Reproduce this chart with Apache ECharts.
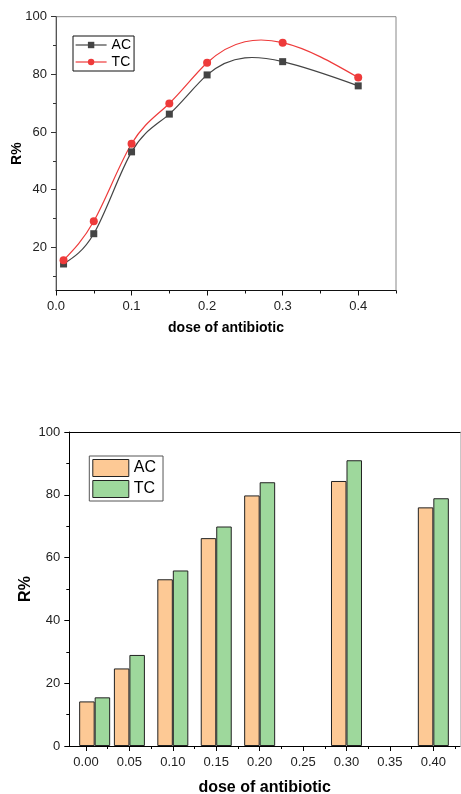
<!DOCTYPE html>
<html><head><meta charset="utf-8">
<script src="https://cdn.jsdelivr.net/npm/echarts@6/dist/echarts.min.js"></script>
<style>html,body{margin:0;padding:0;background:#fff}#c{width:461px;height:794px}</style>
</head><body><div id="c"></div>
<script>
const doses = [0.01, 0.05, 0.10, 0.15, 0.20, 0.30, 0.40];
const acValues = [14.2, 24.7, 53.1, 66.2, 79.8, 84.4, 76.0];
const tcValues = [15.5, 29.0, 55.9, 69.9, 84.0, 91.0, 78.9];
const seriesNames = ['AC', 'TC'];
const lineXMajor = [0, 0.1, 0.2, 0.3, 0.4];
const lineXMinor = [0.05, 0.15, 0.25, 0.35, 0.45];
const lineYMajor = [20, 40, 60, 80, 100];
const lineYMinor = [10, 30, 50, 70, 90];
const barXMajor = [0, 0.05, 0.10, 0.15, 0.20, 0.25, 0.30, 0.35, 0.40];
const barXMinor = [0.025, 0.075, 0.125, 0.175, 0.225, 0.275, 0.325, 0.375, 0.425];
const xTitle = 'dose of antibiotic';
const yTitle = 'R%';

const FONT = "'Liberation Sans', Arial, sans-serif";
const AC_LINE = '#444444', TC_LINE = '#EE3A3A';
const AC_BAR = '#FDC995', TC_BAR = '#9ED89C';
const pairs = vals => doses.map((d, i) => [d, vals[i]]);

// Natural cubic spline slopes (Origin-style "spline" connection), from the data only
function splineSlopes(xs, ys) {
  const n = xs.length, h = [], M = new Array(n).fill(0);
  for (let i = 0; i < n - 1; i++) h.push(xs[i + 1] - xs[i]);
  const a = [], b = [], c = [], r = [];
  for (let i = 1; i < n - 1; i++) {
    a.push(h[i - 1]); b.push(2 * (h[i - 1] + h[i])); c.push(h[i]);
    r.push(6 * ((ys[i + 1] - ys[i]) / h[i] - (ys[i] - ys[i - 1]) / h[i - 1]));
  }
  const m = r.length;
  for (let i = 1; i < m; i++) {
    const w = a[i] / b[i - 1];
    b[i] -= w * c[i - 1]; r[i] -= w * r[i - 1];
  }
  const sol = new Array(m);
  for (let i = m - 1; i >= 0; i--) sol[i] = (r[i] - (i < m - 1 ? c[i] * sol[i + 1] : 0)) / b[i];
  for (let i = 0; i < m; i++) M[i + 1] = sol[i];
  const d = [];
  for (let i = 0; i < n - 1; i++) d.push((ys[i + 1] - ys[i]) / h[i] - h[i] * (2 * M[i] + M[i + 1]) / 6);
  const k = n - 2;
  d.push((ys[k + 1] - ys[k]) / h[k] + h[k] * (M[k] + 2 * M[k + 1]) / 6);
  return d;
}

function splineSeries(name, vals, color) {
  const slopes = splineSlopes(doses, vals);
  return {
    name, type: 'custom', xAxisIndex: 0, yAxisIndex: 0, z: 2, clip: false,
    data: pairs(vals),
    renderItem: (params, api) => {
      const i = params.dataIndex;
      if (i >= doses.length - 1) return null;
      const x0 = doses[i], x1 = doses[i + 1], hh = x1 - x0;
      const p0 = api.coord([x0, vals[i]]);
      const p1 = api.coord([x0 + hh / 3, vals[i] + slopes[i] * hh / 3]);
      const p2 = api.coord([x1 - hh / 3, vals[i + 1] - slopes[i + 1] * hh / 3]);
      const p3 = api.coord([x1, vals[i + 1]]);
      return {
        type: 'bezierCurve',
        shape: {x1: p0[0], y1: p0[1], cpx1: p1[0], cpy1: p1[1], cpx2: p2[0], cpy2: p2[1], x2: p3[0], y2: p3[1]},
        style: {stroke: color, lineWidth: 1.2, fill: null}
      };
    }
  };
}

const chart = echarts.init(document.getElementById('c'), null, {renderer: 'canvas'});

function lineOnly(gridIndex, pos, color, min, max) {
  return {
    type: 'value', gridIndex, position: pos, min, max,
    axisLine: {show: true, onZero: false, lineStyle: {color, width: 1}},
    axisTick: {show: false}, axisLabel: {show: false}, splitLine: {show: false}
  };
}
function ticksOnly(gridIndex, pos, min, max, vals, len, color) {
  return {
    type: 'value', gridIndex, position: pos, min, max,
    axisLine: {show: false, onZero: false},
    axisTick: {show: true, customValues: vals, length: len, lineStyle: {color, width: 1}},
    axisLabel: {show: false}, splitLine: {show: false}
  };
}

const option = {
  animation: false,
  backgroundColor: '#fff',
  textStyle: {fontFamily: FONT},
  grid: [
    {left: 56, top: 16.7, right: 65, bottom: 503.5, show: true, borderColor: '#888', borderWidth: 1,
     outerBoundsMode: 'none', containLabel: false},
    {left: 69.3, top: 432, right: 1, bottom: 48, show: false, outerBoundsMode: 'none', containLabel: false}
  ],
  legend: [
    {
      orient: 'vertical', left: 73, top: 36,
      data: [
        {name: 'AC', lineStyle: {color: AC_LINE, width: 1.2, opacity: 1}},
        {name: 'TC', lineStyle: {color: TC_LINE, width: 1.2, opacity: 1}}
      ],
      itemWidth: 31, itemHeight: 8, itemGap: 3,
      padding: [2, 3, 2, 2],
      borderColor: '#111', borderWidth: 1, backgroundColor: '#fff',
      textStyle: {fontFamily: FONT, fontSize: 14, color: '#000'}
    },
    {
      orient: 'vertical', left: 89.3, top: 456,
      data: seriesNames.map((n, i) => ({
        name: n + '_bar', icon: 'rect',
        itemStyle: {color: i === 0 ? AC_BAR : TC_BAR, borderColor: '#222', borderWidth: 1}
      })),
      formatter: n => n.replace('_bar', ''),
      itemWidth: 36, itemHeight: 17, itemGap: 3,
      padding: [3, 7, 3, 3],
      borderColor: '#555', borderWidth: 1, backgroundColor: '#fff',
      textStyle: {fontFamily: FONT, fontSize: 16, color: '#000'}
    }
  ],
  xAxis: [
    {
      type: 'value', gridIndex: 0, position: 'bottom', min: 0, max: 0.45,
      name: xTitle, nameLocation: 'middle', nameGap: 31, nameMoveOverlap: false,
      nameTextStyle: {fontFamily: FONT, fontSize: 14, fontWeight: 'bold', color: '#000'},
      axisLine: {show: true, onZero: false, lineStyle: {color: '#111', width: 1}},
      axisTick: {show: true, customValues: lineXMajor, length: 5, lineStyle: {color: '#111'}},
      axisLabel: {customValues: lineXMajor, formatter: v => v.toFixed(1), margin: 9,
        fontFamily: FONT, fontSize: 13, color: '#222'},
      splitLine: {show: false}
    },
    ticksOnly(0, 'bottom', 0, 0.45, lineXMinor, 3, '#111'),
    {
      type: 'value', gridIndex: 1, position: 'bottom', min: -0.0192, max: 0.4307,
      name: xTitle, nameLocation: 'middle', nameGap: 34, nameMoveOverlap: false,
      nameTextStyle: {fontFamily: FONT, fontSize: 16, fontWeight: 'bold', color: '#000'},
      axisLine: {show: true, onZero: false, lineStyle: {color: '#000', width: 1}},
      axisTick: {show: true, customValues: barXMajor, length: 5, lineStyle: {color: '#000'}},
      axisLabel: {customValues: barXMajor, formatter: v => v.toFixed(2), margin: 10,
        fontFamily: FONT, fontSize: 13, color: '#222'},
      splitLine: {show: false}
    },
    ticksOnly(1, 'bottom', -0.0192, 0.4307, barXMinor, 3, '#000'),
    lineOnly(1, 'top', '#000', -0.0192, 0.4307)
  ],
  yAxis: [
    {
      type: 'value', gridIndex: 0, position: 'left', min: 5, max: 100,
      name: yTitle, nameLocation: 'middle', nameGap: 32, nameMoveOverlap: false,
      nameTextStyle: {fontFamily: FONT, fontSize: 14, fontWeight: 'bold', color: '#000'},
      axisLine: {show: true, onZero: false, lineStyle: {color: '#555', width: 1}},
      axisTick: {show: true, customValues: lineYMajor, length: 5, lineStyle: {color: '#333'}},
      axisLabel: {customValues: lineYMajor, margin: 9, fontFamily: FONT, fontSize: 13, color: '#222'},
      splitLine: {show: false}
    },
    ticksOnly(0, 'left', 5, 100, lineYMinor, 3, '#333'),
    {
      type: 'value', gridIndex: 1, position: 'left', min: 0, max: 100, interval: 20,
      name: yTitle, nameLocation: 'middle', nameGap: 36, nameMoveOverlap: false,
      nameTextStyle: {fontFamily: FONT, fontSize: 16, fontWeight: 'bold', color: '#000'},
      axisLine: {show: true, onZero: false, lineStyle: {color: '#000', width: 1}},
      axisTick: {show: true, length: 5, lineStyle: {color: '#000'}},
      minorTick: {show: true, splitNumber: 2, length: 3, lineStyle: {color: '#000'}},
      axisLabel: {margin: 9, fontFamily: FONT, fontSize: 13, color: '#222'},
      splitLine: {show: false}, minorSplitLine: {show: false}
    },
    lineOnly(1, 'right', '#c8c8c8', 0, 100)
  ],
  series: [
    {
      name: 'AC', type: 'line', xAxisIndex: 0, yAxisIndex: 0, data: pairs(acValues),
      symbol: 'rect', symbolSize: 7,
      lineStyle: {color: AC_LINE, width: 1.2, opacity: 0}, itemStyle: {color: AC_LINE}, z: 3
    },
    {
      name: 'TC', type: 'line', xAxisIndex: 0, yAxisIndex: 0, data: pairs(tcValues),
      symbol: 'circle', symbolSize: 8,
      lineStyle: {color: TC_LINE, width: 1.2, opacity: 0}, itemStyle: {color: TC_LINE}, z: 4
    },
    splineSeries('AC', acValues, AC_LINE),
    splineSeries('TC', tcValues, TC_LINE),
    {
      name: 'AC_bar', type: 'bar', xAxisIndex: 2, yAxisIndex: 2, data: pairs(acValues),
      barWidth: 15.5, barGap: '0%',
      itemStyle: {color: AC_BAR, borderColor: '#222', borderWidth: 1}
    },
    {
      name: 'TC_bar', type: 'bar', xAxisIndex: 2, yAxisIndex: 2, data: pairs(tcValues),
      barWidth: 15.5, barGap: '0%',
      itemStyle: {color: TC_BAR, borderColor: '#222', borderWidth: 1}
    }
  ]
};
chart.setOption(option);
</script>
</body></html>
